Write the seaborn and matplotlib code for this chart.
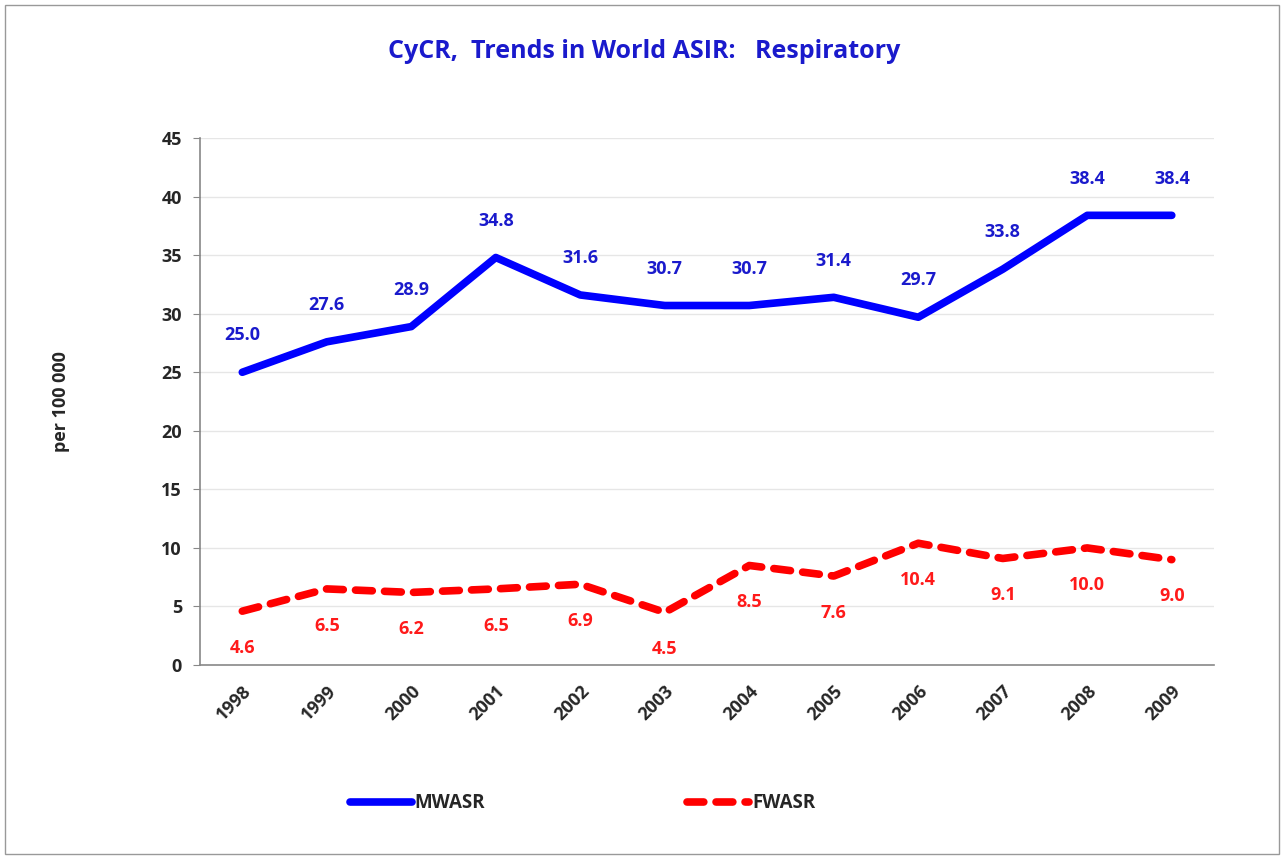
import numpy as np
import pandas as pd
import seaborn as sns
import matplotlib.pyplot as plt
from matplotlib.patches import Rectangle
from matplotlib.ticker import FixedLocator

years = ["1998", "1999", "2000", "2001", "2002", "2003",
         "2004", "2005", "2006", "2007", "2008", "2009"]
mwasr = [25.0, 27.6, 28.9, 34.8, 31.6, 30.7, 30.7, 31.4, 29.7, 33.8, 38.4, 38.4]
fwasr = [4.6, 6.5, 6.2, 6.5, 6.9, 4.5, 8.5, 7.6, 10.4, 9.1, 10.0, 9.0]
yticks = [0, 5, 10, 15, 20, 25, 30, 35, 40, 45]


def main():
    sns.set_style("white")
    plt.rcParams["font.family"] = ["Open Sans", "DejaVu Sans"]

    df = pd.DataFrame({"year": years, "MWASR": mwasr, "FWASR": fwasr})
    df["pos"] = np.arange(len(years))

    fig = plt.figure(figsize=(12.84, 8.59), dpi=100)
    ax = fig.add_axes([0.1558, 0.2258, 0.7897, 0.6135])

    sns.lineplot(data=df, x="pos", y="MWASR", ax=ax, color="#0000ff",
                 linewidth=5.5, solid_capstyle="round", solid_joinstyle="round",
                 label="MWASR")
    sns.lineplot(data=df, x="pos", y="FWASR", ax=ax, color="#ff0000",
                 linewidth=5.5, dashes=False, label="FWASR")
    red = ax.get_lines()[1]
    red.set_dashes([2.2, 1.6])
    red.set_dash_capstyle("round")

    for i, v in enumerate(mwasr):
        ax.annotate(f"{v:.1f}", (i, v), xytext=(0, 20), textcoords="offset points",
                    ha="center", va="bottom", color="#1a1acc", fontsize=13,
                    fontweight="bold")
    for i, v in enumerate(fwasr):
        ax.annotate(f"{v:.1f}", (i, v), xytext=(0, -20), textcoords="offset points",
                    ha="center", va="top", color="#ff1a1a", fontsize=13,
                    fontweight="bold")

    ax.set_xlim(-0.5, len(years) - 0.5)
    ax.set_ylim(0, 45)
    ax.set_yticks(yticks)
    ax.set_yticklabels([str(t) for t in yticks], fontsize=13, fontweight="bold")
    ax.set_xticks(df["pos"])
    ax.set_xticklabels(years, rotation=45, ha="right", rotation_mode="anchor",
                       fontsize=13, fontweight="bold")
    ax.xaxis.set_minor_locator(FixedLocator(np.arange(-0.5, len(years), 1.0)))
    ax.tick_params(axis="x", which="major", length=0, pad=12)
    ax.tick_params(axis="x", which="minor", length=5, color="#888888", direction="out")
    ax.tick_params(axis="y", length=5, color="#888888", direction="out", left=True, pad=8)

    ax.grid(axis="y", color="#e6e6e6", linewidth=1)
    ax.set_axisbelow(True)
    for side in ["top", "right"]:
        ax.spines[side].set_visible(False)
    for side in ["left", "bottom"]:
        ax.spines[side].set_color("#888888")
        ax.spines[side].set_linewidth(1.2)

    ax.set_xlabel("")
    ax.set_ylabel("per 100 000", fontsize=13, fontweight="bold", labelpad=66)

    fig.text(0.502, 0.94, "CyCR,  Trends in World ASIR:   Respiratory", ha="center",
             va="center", color="#1a1acc", fontsize=18, fontweight="bold")

    handles, labels = ax.get_legend_handles_labels()
    ax.legend_.remove()
    fig.legend(handles, labels, loc="center", bbox_to_anchor=(0.4537, 0.065),
               ncol=2, frameon=False, columnspacing=10.8, handlelength=3.3,
               handletextpad=0.15, prop={"size": 13.5, "weight": "bold"})

    fig.patches.append(Rectangle((0.004, 0.006), 0.992, 0.988, transform=fig.transFigure,
                                 fill=False, edgecolor="#999999", linewidth=1))

    plt.savefig("out.png", dpi=100)


if __name__ == "__main__":
    main()
